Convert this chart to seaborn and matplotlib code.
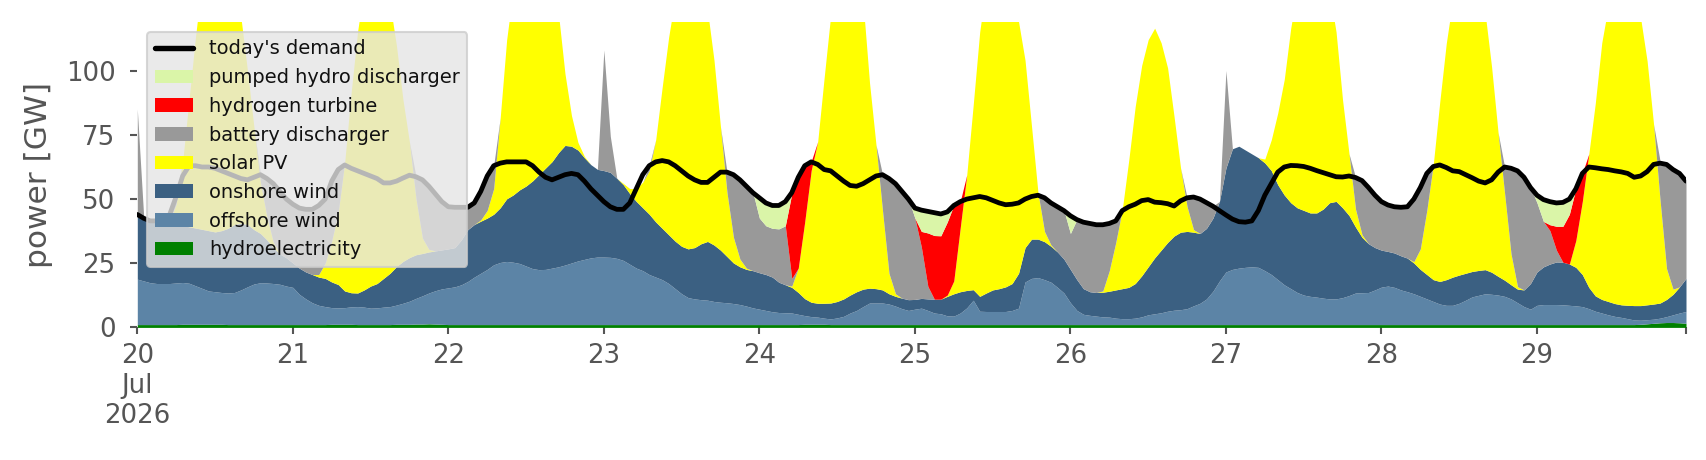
import matplotlib
matplotlib.use("Agg")
import matplotlib.pyplot as plt
from matplotlib.patches import Patch
from matplotlib.lines import Line2D
import numpy as np
import pandas as pd
import seaborn as sns

# ---------------- data (GW, hourly, 20 Jul 2026 00:00 .. 29 Jul 2026 23:00) ----------------
start_time = "2026-07-20 00:00"
n_hours = 240

day_labels = ["20\nJul\n2026", "21", "22", "23", "24", "25", "26", "27", "28", "29"]

series_names = ["hydroelectricity", "offshore wind", "onshore wind", "solar PV",
                "battery discharger", "hydrogen turbine", "pumped hydro discharger"]
demand_name = "today's demand"

hydro = [
    1.1, 1.1, 1.1, 1.1, 1.1, 1.1, 1.1, 1.2, 1.2, 1.2, 1.2, 1.2, 1.2, 1.2, 1.1, 1.1, 1.1, 1.1, 1.1, 1.1, 1.1, 1.1, 1.1, 1.1,
    1.1, 1.1, 1.1, 1.1, 1.1, 1.1, 1.2, 1.2, 1.2, 1.2, 1.1, 1.1, 1.1, 1.1, 1.1, 1.1, 1.2, 1.2, 1.2, 1.3, 1.3, 1.4, 1.3, 1.2,
    1.1, 1.1, 1.1, 1.1, 1.1, 1.1, 1.1, 1.1, 1.1, 1.1, 1.1, 1.1, 1.1, 1.1, 1.1, 1.1, 1.1, 1.1, 1.1, 1.1, 1.1, 1.1, 1.1, 1.1,
    1.1, 1.1, 1.1, 1.1, 1.1, 1.1, 1.1, 1.1, 1.1, 1.1, 1.1, 1.1, 1.1, 1.1, 1.1, 1.1, 1.1, 1.1, 1.1, 1.1, 1.1, 1.1, 1.1, 1.1,
    1.1, 1.1, 1.1, 1.1, 1.1, 1.1, 1.1, 1.2, 1.2, 1.2, 1.2, 1.1, 1.1, 1.1, 1.1, 1.1, 1.1, 1.1, 1.1, 1.1, 1.1, 1.1, 1.1, 1.1,
    1.1, 1.1, 1.1, 1.1, 1.1, 1.1, 1.1, 1.1, 1.1, 1.1, 1.1, 1.1, 1.1, 1.1, 1.1, 1.1, 1.1, 1.1, 1.1, 1.1, 1.1, 1.1, 1.1, 1.1,
    1.1, 1.1, 1.1, 1.1, 1.1, 1.1, 1.1, 1.1, 1.1, 1.1, 1.1, 1.1, 1.1, 1.1, 1.1, 1.1, 1.1, 1.1, 1.1, 1.1, 1.1, 1.1, 1.1, 1.1,
    1.1, 1.1, 1.1, 1.1, 1.1, 1.1, 1.1, 1.1, 1.1, 1.1, 1.1, 1.1, 1.1, 1.1, 1.1, 1.1, 1.1, 1.1, 1.1, 1.1, 1.1, 1.1, 1.1, 1.1,
    1.1, 1.1, 1.1, 1.1, 1.1, 1.1, 1.1, 1.1, 1.1, 1.1, 1.1, 1.1, 1.1, 1.1, 1.1, 1.1, 1.1, 1.1, 1.1, 1.1, 1.1, 1.1, 1.1, 1.1,
    1.1, 1.1, 1.1, 1.1, 1.1, 1.1, 1.1, 1.1, 1.1, 1.1, 1.1, 1.1, 1.1, 1.1, 1.1, 1.1, 1.2, 1.4, 1.6, 1.8, 1.9, 1.9, 1.8, 1.6,
]

offshore = [
    17.7, 17, 16.3, 16, 16, 16, 16.2, 16.3, 16, 15, 14, 13, 12.7, 12.4, 12.3, 12.5, 13.5, 14.7, 15.8, 16.3, 16.2, 16, 15.7, 15,
    14.5, 11.8, 10, 8.5, 7.5, 7, 6.5, 6.4, 6.5, 6.8, 7, 6.8, 6.4, 6.5, 6.8, 7, 7.5, 8.2, 9, 10, 11, 12, 13, 13.8,
    14.3, 14.7, 15.5, 16.8, 18.5, 20, 21.5, 23.3, 24.2, 24.6, 24.3, 23.8, 22.8, 21.8, 21.4, 21.5, 22, 22.5, 23.2, 24, 24.8, 25.4, 26, 26.3,
    26.3, 26.2, 25.8, 25, 23.5, 22, 21, 19.5, 18.5, 17.5, 16, 14, 12, 10.5, 10, 9.7, 9.5, 9, 8.7, 8.5, 8.2, 7.8, 7.2, 6.5,
    6, 5.5, 5, 4.7, 4.6, 4.5, 4, 3.4, 3, 2.8, 2.4, 2.2, 2.6, 3.2, 4.5, 5.5, 7, 8.4, 8.4, 8.4, 8, 7.2, 6.2, 5.5,
    6, 6.4, 5.5, 4.5, 4.2, 3.4, 3.3, 4.5, 6.5, 9.5, 5.2, 5.1, 5.1, 5.1, 5.1, 5.5, 6.4, 16.6, 18, 18.3, 17.5, 16.5, 14.5, 12.3,
    8.5, 5.5, 4, 3.6, 3.3, 3, 2.9, 2.5, 2.3, 2.3, 2.5, 3, 3.8, 4.2, 4.6, 5.2, 5.6, 5.8, 6.2, 7.3, 8.3, 10, 13, 17,
    20.5, 21.5, 22, 22.3, 22.5, 22.3, 21, 19.5, 17.5, 15.5, 14, 12.5, 11.5, 11, 10.7, 10.3, 10, 10, 10.5, 11.3, 12.3, 12.4, 12.5, 13.5,
    14.6, 15, 14.5, 13.5, 12.8, 12, 11, 10, 9, 8, 7.5, 7.5, 8.3, 9.5, 10.8, 11.4, 12, 11.8, 11.5, 11, 10, 8.5, 7, 6,
    7.5, 7.8, 7.8, 7.8, 7.7, 7.5, 7.3, 7, 6.2, 5.2, 4.5, 3.8, 3.2, 2.8, 2.3, 1.8, 1.6, 1.6, 1.6, 1.8, 2.3, 3, 3.8, 4.6,
]

onshore = [
    24.3, 24.3, 24.2, 24.3, 24, 23.5, 22.8, 22.2, 22, 22.5, 23, 23.5, 23.3, 24.1, 25.2, 26.5, 26, 24.3, 21.2, 19.2, 16.8, 14, 11.8, 11,
    9.5, 10.2, 10.5, 11, 11, 11, 10, 9.1, 6.5, 5.5, 5.3, 6.7, 8.6, 9.5, 11.2, 13, 15, 16.3, 17, 17, 16.5, 16, 15.5, 15.2,
    15.2, 15.3, 17.5, 20.2, 20.5, 20.3, 20, 19.7, 21.3, 24.4, 26.2, 28.7, 31.2, 34.2, 37.1, 39.5, 41.5, 44.5, 46.6, 45.5, 43.2, 39.6, 36.3, 34.2,
    33.7, 33.1, 31.2, 29.5, 27.5, 26, 24.5, 23.5, 21.5, 20, 19, 18.5, 18.5, 19, 20, 21.8, 22.9, 22, 20.3, 18, 15.8, 14.7, 14.3, 14.5,
    14.2, 14, 13.5, 11.8, 10.9, 10, 8.5, 6.6, 5.6, 5.4, 5.8, 6.2, 6.4, 6.8, 7, 7.3, 6.8, 5.8, 5.6, 5.1, 4, 3.8, 4.1, 4.2,
    3.8, 3.8, 4.5, 5.4, 5.7, 7.6, 8.7, 8.3, 6.8, 4.1, 5.8, 7.2, 8.4, 8.9, 9.6, 10.5, 13.6, 13.4, 15.3, 15, 14.8, 14, 13.8, 13.2,
    13, 12, 10, 9.2, 9.2, 9.6, 10.1, 11, 11.7, 12.2, 13.5, 16, 18.7, 21.8, 24.4, 26.8, 28.9, 30.2, 30.1, 28.7, 27.2, 27.5, 28.5, 31,
    40.5, 47, 47.5, 45.7, 44, 42.7, 42, 40.5, 37, 35, 33.5, 33, 33, 32.5, 32.8, 34.7, 37.5, 38, 35, 31.2, 25.7, 21.6, 19, 16.5,
    14.4, 13.5, 13.4, 13.3, 13.1, 12, 10.5, 9.5, 8.5, 8.8, 10, 11, 11, 10.5, 9.9, 9.7, 9.4, 8.6, 7.3, 6.3, 5.5, 5.3, 6.5, 10,
    13, 14.7, 15.8, 16.6, 16.6, 16.1, 15, 12.5, 8.3, 6, 5.3, 5.2, 5, 4.9, 5.2, 5.6, 5.7, 5.8, 5.9, 5.9, 6.7, 8, 10.2, 12.9,
]

solar = [
    0, 0, 0, 0, 0, 1, 8, 25, 50, 75, 97, 110, 116, 116, 110, 98, 80, 60, 40, 20, 9, 2, 0, 0,
    0, 0, 0, 0, 1, 6, 16, 28, 50, 78, 102, 118, 125, 125, 118, 105, 86, 63, 45, 22, 6, 1, 0, 0,
    0, 0, 0, 0, 0, 0.5, 3, 10, 35, 62, 80, 90, 94, 92, 84, 72, 63, 54, 28, 12, 3, 0.5, 0, 0,
    0, 0, 0, 0.5, 2, 5, 10, 17, 32, 55, 77, 95, 105, 110, 108, 102, 90, 72, 48, 25, 10, 3, 0.5, 0,
    0, 0, 0, 0, 0, 0.5, 9.5, 30, 51.4, 63, 88, 112, 125, 130, 128, 122, 112, 80, 56, 31, 8, 1, 0, 0,
    0, 0, 0, 0, 0, 0.5, 5, 25, 45, 72, 103, 120, 128, 130, 127, 118, 98, 73, 44, 18, 4, 0.5, 0, 0,
    0, 0, 0, 0, 0, 0.5, 8, 18.5, 30.8, 49.5, 69, 82, 88.5, 89.5, 80.8, 68, 46.5, 25, 9.7, 1, 0, 0, 0, 0,
    0, 0, 0, 0, 0, 0, 1.5, 12, 28, 45, 68, 85, 95, 100, 100, 95, 82, 66, 42, 24, 7, 1, 0, 0,
    0, 0, 0, 0, 0, 0.5, 8, 25, 45, 70, 92, 108, 115, 118, 116, 110, 100, 80, 56, 34, 12, 1, 0, 0,
    0, 0, 0, 0, 0, 0, 10.5, 28.5, 52, 75, 100, 115, 125, 128, 126, 120, 112, 95, 70, 40, 12, 2, 0, 0,
]

battery = [
    42, 0.2, 0, 0.2, 0.5, 2.5, 3, 0, 0, 0, 0, 0, 0, 0, 0, 0, 0, 0, 0, 3, 15, 23, 24.5, 23,
    23, 23.5, 24.5, 25.5, 27, 25, 23.5, 17, 0, 0, 0, 0, 0, 0, 0, 0, 0, 0, 0, 8.7, 23, 25, 22.5, 19,
    16.5, 15.8, 12.8, 8.8, 8.5, 11.2, 13.5, 9, 0, 0, 0, 0, 0, 0, 0, 0, 0, 0, 0, 0, 0, 0, 0, 0,
    47, 14, 0, 0, 0, 0, 0, 2, 0, 0, 0, 0, 0, 0, 0, 0, 0, 0, 0, 8, 24.5, 31, 32, 30.5,
    21.3, 19, 19, 20.8, 23, 3, 0, 0, 0, 0, 0, 0, 0, 0, 0, 0, 0, 0, 0, 14, 37, 43, 41.7, 39.3,
    31.7, 20, 4.9, 0, 0, 0, 0, 0, 0, 0, 0, 0, 0, 0, 0, 0, 0, 0, 0, 0, 13.2, 16.5, 17.7, 19,
    14, 23.5, 26, 26.7, 26.5, 25.9, 18.5, 8.5, 0, 0, 0, 0, 0, 0, 0, 0, 0, 0, 3.5, 12.8, 13.5, 10.1, 4.7, 0,
    38, 0, 0, 0, 0, 0, 0, 0, 0, 0, 0, 0, 0, 0, 0, 0, 0, 0, 0, 0, 12.4, 21.2, 22, 20.5,
    19, 18.2, 18.1, 19, 20.1, 24.5, 24, 14.5, 0, 0, 0, 0, 0, 0, 0, 0, 0, 0, 0, 10.2, 33.5, 45.2, 44, 37.5,
    27, 17.7, 13, 4.6, 0, 0, 0, 0, 0, 0, 0, 0, 0, 0, 0, 0, 0, 0, 0, 15.3, 41.5, 47.5, 45, 38.5,
]

hydrogen = [
    0, 0, 0, 0, 0, 0, 0, 0, 0, 0, 0, 0, 0, 0, 0, 0, 0, 0, 0, 0, 0, 0, 0, 0,
    0, 0, 0, 0, 0, 0, 0, 0, 0, 0, 0, 0, 0, 0, 0, 0, 0, 0, 0, 0, 0, 0, 0, 0,
    0, 0, 0, 0, 0, 0, 0, 0, 0, 0, 0, 0, 0, 0, 0, 0, 0, 0, 0, 0, 0, 0, 0, 0,
    0, 0, 0, 0, 0, 0, 0, 0, 0, 0, 0, 0, 0, 0, 0, 0, 0, 0, 0, 0, 0, 0, 0, 0,
    0, 0, 0, 0, 0, 33, 35.5, 22, 3.5, 0, 0, 0, 0, 0, 0, 0, 0, 0, 0, 0, 0, 0, 0, 0,
    0, 6.1, 20.8, 24.8, 24.7, 28.5, 29.5, 10.2, 0, 0, 0, 0, 0, 0, 0, 0, 0, 0, 0, 0, 0, 0, 0, 0,
    0, 0, 0, 0, 0, 0, 0, 0, 0, 0, 0, 0, 0, 0, 0, 0, 0, 0, 0, 0, 0, 0, 0, 0,
    0, 0, 0, 0, 0, 0, 0, 0, 0, 0, 0, 0, 0, 0, 0, 0, 0, 0, 0, 0, 0, 0, 0, 0,
    0, 0, 0, 0, 0, 0, 0, 0, 0, 0, 0, 0, 0, 0, 0, 0, 0, 0, 0, 0, 0, 0, 0, 0,
    0, 0, 2.3, 9.3, 14, 19.4, 20.2, 11, 0, 0, 0, 0, 0, 0, 0, 0, 0, 0, 0, 0, 0, 0, 0, 0,
]

pumped_hydro = [
    0, 0, 0, 0, 0, 0, 0, 0, 0, 0, 0, 0, 0, 0, 0, 0, 0, 0, 0, 0, 0, 0, 0, 0,
    0, 0, 0, 0, 0, 0, 0, 0, 0, 0, 0, 0, 0, 0, 0, 0, 0, 0, 0, 0, 0, 0, 0, 0,
    0, 0, 0, 0, 0, 0, 0, 0, 0, 0, 0, 0, 0, 0, 0, 0, 0, 0, 0, 0, 0, 0, 0, 0,
    0, 0, 0, 0, 0, 0, 0, 0, 0, 0, 0, 0, 0, 0, 0, 0, 0, 0, 0, 0, 0, 0, 0, 0,
    8, 9, 9, 9.2, 9.5, 0.5, 0, 0, 0, 0, 0, 0, 0, 0, 0, 0, 0, 0, 0, 0, 0, 0, 0, 0,
    4, 8.4, 8.5, 9, 8.6, 4, 0, 0, 0, 0, 0, 0, 0, 0, 0, 0, 0, 0, 0, 0, 0, 0, 0, 0,
    7, 0, 0, 0, 0, 0, 0, 0, 0, 0, 0, 0, 0, 0, 0, 0, 0, 0, 0, 0, 0, 0, 0, 0,
    0, 0, 0, 0, 0, 0, 0, 0, 0, 0, 0, 0, 0, 0, 0, 0, 0, 0, 0, 0, 0, 0, 0, 0,
    0, 0, 0, 0, 0, 0, 0, 0, 0, 0, 0, 0, 0, 0, 0, 0, 0, 0, 0, 0, 0, 0, 0, 0,
    3, 8.6, 9.1, 9.2, 9.4, 6, 0, 0, 0, 0, 0, 0, 0, 0, 0, 0, 0, 0, 0, 0, 0, 0, 0, 0,
]

demand = [
    44, 42.5, 41.5, 41.5, 41.5, 44, 51, 59, 63, 63, 62.5, 62.5, 62, 61, 60, 59, 58, 57.5, 58.5, 59.5, 58, 56, 53, 50,
    48, 46.5, 46, 46, 47.5, 50, 57, 61.5, 63.3, 62, 61, 60, 59, 58, 56.3, 56.3, 57, 58.2, 59.3, 58.7, 57.5, 55, 52, 49,
    47, 46.8, 46.8, 46.8, 48.5, 53, 59, 63, 64, 64.5, 64.5, 64.5, 64.5, 63, 60.5, 58.5, 57.5, 58.5, 59.5, 60, 59.5, 57, 54, 51.5,
    49, 47, 46, 46, 48.5, 54, 59.5, 63, 64.5, 65, 64.5, 63, 61, 59, 57.5, 56.5, 56.5, 58.5, 60.5, 60.5, 59.5, 57.5, 55, 52.5,
    50.5, 48.5, 47.5, 47.5, 49, 52.5, 58.5, 63, 64.5, 63.5, 61.5, 61, 59, 57, 55.3, 55, 56, 57.5, 59, 59.5, 58, 56, 53, 50,
    46.5, 45.7, 45.2, 44.7, 44.2, 45, 47.5, 49, 50, 50.5, 51, 50.5, 49.5, 48.5, 47.8, 48, 48.5, 50, 51, 51.5, 50.5, 48.5, 47, 45.5,
    43.5, 42, 41, 40.5, 40, 40, 40.5, 41.5, 45.5, 47, 48, 49.4, 49.8, 48.8, 48.6, 48.2, 47.3, 49.3, 50.5, 50.8, 50, 48.6, 47.2, 45.5,
    43.8, 42.2, 41.2, 41, 41.5, 45.5, 51.5, 56, 60.5, 62.5, 63.1, 63, 62.7, 62, 61.1, 60.3, 59.5, 58.7, 58.6, 59, 58.4, 57.2, 54.5, 51.5,
    49, 47.7, 47, 46.8, 47, 50, 54.5, 60, 62.7, 63.3, 62.3, 61, 60.7, 59.5, 58.3, 57, 56.3, 57.5, 60.5, 62.5, 62, 61, 58.5, 54.5,
    51.5, 49.8, 49, 48.5, 48.7, 50, 54, 60, 62.5, 62.2, 61.8, 61.5, 61, 60.6, 60, 58.5, 59, 60.7, 63.5, 64, 63.5, 61.5, 60, 57,
]

series_colors = ["#008000", "#5c84a6", "#3b6082", "#ffff00", "#999999", "#ff0000", "#daf5a8"]

# ---------------- plotting ----------------
sns.set_theme(style="ticks")
plt.rcParams["font.family"] = ["DejaVu Sans"]

times = pd.date_range(start_time, periods=n_hours, freq="h")
df = pd.DataFrame({
    "time": times,
    "hydroelectricity": hydro,
    "offshore wind": offshore,
    "onshore wind": onshore,
    "solar PV": solar,
    "battery discharger": battery,
    "hydrogen turbine": hydrogen,
    "pumped hydro discharger": pumped_hydro,
    demand_name: demand,
})

W, H, DPI = 1706, 460, 150
fig = plt.figure(figsize=(W / DPI, H / DPI), dpi=DPI)
ax_left, ax_right, ax_top, ax_bottom = 137.3, 1686.0, 22.0, 327.4
ax = fig.add_axes([ax_left / W, 1 - ax_bottom / H, (ax_right - ax_left) / W, (ax_bottom - ax_top) / H])
ax.set_facecolor("white")

ax.stackplot(df["time"], *[df[n].values for n in series_names],
             colors=series_colors, linewidth=0, antialiased=True)

sns.lineplot(data=df, x="time", y=demand_name, ax=ax, color="black", linewidth=2.3, legend=False)

ax.set_xlim(times[0], times[-1])
ax.set_ylim(0, 119)

day_ticks = pd.date_range(start_time, periods=len(day_labels), freq="D")
ax.set_xticks(day_ticks)
ax.set_xticklabels(day_labels)
ax.set_xticks([times[-1]], minor=True)
ax.set_yticks([0, 25, 50, 75, 100])

tick_color = "#555555"
ax.tick_params(axis="both", which="both", colors=tick_color, labelcolor=tick_color,
               labelsize=12.5, length=3.5, width=1.0, direction="out")
ax.tick_params(axis="y", pad=7)
ax.tick_params(axis="x", pad=4)

ax.set_xlabel("")
ax.set_ylabel("power [GW]", fontsize=15, color=tick_color, labelpad=6)

for sp in ax.spines.values():
    sp.set_visible(False)
ax.grid(False)

handles = [Line2D([0], [0], color="black", linewidth=2.6)]
labels = [demand_name]
for name, col in reversed(list(zip(series_names, series_colors))):
    handles.append(Patch(facecolor=col, edgecolor="none"))
    labels.append(name)

leg = ax.legend(handles, labels, loc="upper left", fontsize=9.3, labelspacing=0.5,
                facecolor="#e5e5e5", edgecolor="#cccccc", framealpha=0.8, fancybox=True)
for t in leg.get_texts():
    t.set_color("#111111")

fig.savefig("out.png", dpi=DPI)
